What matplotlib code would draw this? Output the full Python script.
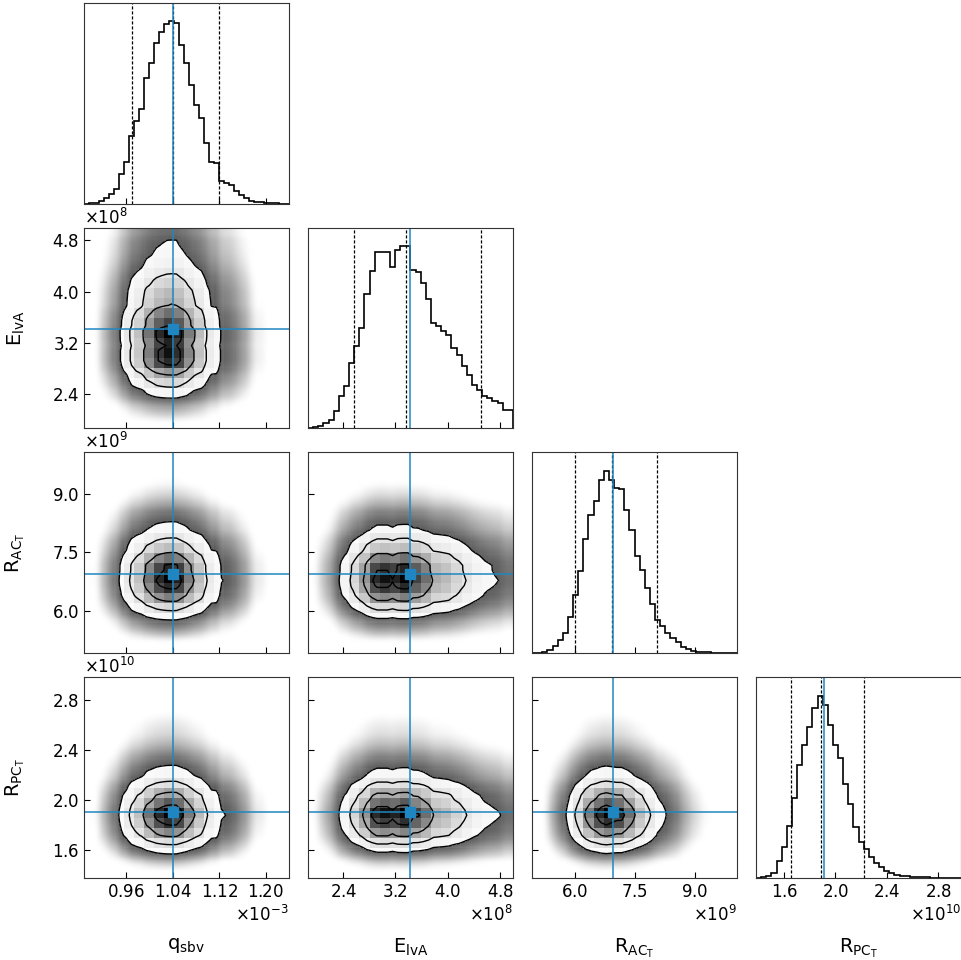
import numpy as np
import matplotlib
matplotlib.use("Agg")
import matplotlib.pyplot as plt
from matplotlib.ticker import ScalarFormatter, FixedLocator
from matplotlib.colors import LinearSegmentedColormap

# parameter names, axis ranges and ticks
labels = [r"$\mathrm{q_{sbv}}$", r"$\mathrm{E_{lvA}}$",
          r"$\mathrm{R_{AC_T}}$", r"$\mathrm{R_{PC_T}}$"]
ranges = [(0.887e-3, 1.240e-3), (1.86e8, 5.0e8),
          (4.93e9, 10.05e9), (1.38e10, 2.98e10)]
ticks = [[0.96e-3, 1.04e-3, 1.12e-3, 1.20e-3],
         [2.4e8, 3.2e8, 4.0e8, 4.8e8],
         [6.0e9, 7.5e9, 9.0e9],
         [1.6e10, 2.0e10, 2.4e10, 2.8e10]]

# best-fit values (blue) and 16/50/84 % quantiles (dashed)
truths = [1.040e-3, 3.42e8, 6.94e9, 1.91e10]
quantiles = [[0.970e-3, 1.040e-3, 1.120e-3],
             [2.57e8, 3.36e8, 4.51e8],
             [6.00e9, 6.92e9, 8.06e9],
             [1.652e10, 1.888e10, 2.22e10]]

# marginal histograms (relative heights, bins spread over the axis range)
q_hist = [0, .004, .004, .015, .03, .055, .08, .16, .23, .37, .45, .52, .69, .77,
          .88, .94, .985, 1.0, .99, .87, .77, .65, .54, .47, .33, .23, .22, .125,
          .115, .10, .07, .048, .033, .015, .007, .007, .004, .002, .002, 0, 0]
e_hist = [0, .005, .015, .027, .046, .093, .18, .23, .36, .45, .55, .735, .86,
          .965, .965, .965, .885, .98, 1.0, 1.0, .867, .855, .795, .71, .58, .56,
          .535, .51, .44, .40, .34, .29, .24, .21, .18, .165, .15, .14, .10, .10]
rac_hist = [0, 0, .004, .016, .04, .07, .11, .2, .32, .45, .625, .76, .835, .95,
            1.0, .95, .905, .90, .785, .675, .535, .455, .36, .27, .18, .15, .11,
            .085, .06, .035, .022, .013, .009, .005, .004, .003, .002, .001, .001, 0]
rpc_hist = [0, .003, .01, .027, .095, .17, .285, .436, .62, .727, .83, .93, 1.0,
            .95, .84, .73, .66, .515, .405, .28, .196, .16, .115, .085, .06, .04,
            .025, .018, .012, .01, .008, .006, .004, .003, .002, .001, 0, 0, 0, 0]

hists = [np.array(h, float) for h in (q_hist, e_hist, rac_hist, rpc_hist)]
truth_color = "#1f86c2"
sigma_mass = [1 - np.exp(-0.5 * s ** 2) for s in (0.5, 1.0, 1.5, 2.0)]

def edges_of(k):
    return np.linspace(ranges[k][0], ranges[k][1], len(hists[k]) + 1)

def coarse(h, e):
    # merge pairs of bins for the 2d block histogram
    if len(h) % 2:
        h = np.append(h, 0)
        e = np.append(e, e[-1] + (e[1] - e[0]))
    return h.reshape(-1, 2).sum(1), e[::2]

density_cmap = LinearSegmentedColormap.from_list("dens", ["k", (1, 1, 1, 0)])

fig = plt.figure(figsize=(9.62, 9.60), dpi=100)
axes = fig.subplots(4, 4)
fig.subplots_adjust(left=0.0873, right=0.999, bottom=0.0854, top=0.997,
                    wspace=0.093, hspace=0.12)

n = 4
for i in range(n):
    for j in range(n):
        ax = axes[i, j]
        if j > i:
            ax.set_visible(False)
            continue
        ax.tick_params(direction="in", length=4, labelsize=12,
                       top=False, right=False)
        for sp in ax.spines.values():
            sp.set_color("#333333")
        if i == j:
            e = edges_of(i)
            h = hists[i]
            ax.stairs(h, e, color="k", lw=1.2)
            for qv in quantiles[i]:
                ax.axvline(qv, color="k", ls="--", lw=0.9, dashes=(2.5, 1.5))
            ax.axvline(truths[i], color=truth_color, lw=1.1)
            ax.set_ylim(0, 1.1 * h.max())
            ax.set_yticks([])
        else:
            ex, ey = edges_of(j), edges_of(i)
            hx, hy = hists[j], hists[i]
            dens = np.outer(hy, hx)
            cx = 0.5 * (ex[1:] + ex[:-1])
            cy = 0.5 * (ey[1:] + ey[:-1])
            # density levels enclosing 0.5, 1, 1.5, 2 sigma
            flat = np.sort(dens.ravel())[::-1]
            cum = np.cumsum(flat) / flat.sum()
            levels = sorted(flat[np.searchsorted(cum, m)] for m in sigma_mass)
            # outer cloud of points, shaded on a log scale of the density
            r = np.clip(dens / levels[0], 1e-6, 1)
            alpha = 0.72 * np.clip(1 + np.log10(r) / 1.6, 0, 1) ** 1.5
            rgba = np.zeros(dens.shape + (4,))
            rgba[..., 3] = alpha
            ax.imshow(rgba, origin="lower", aspect="auto", interpolation="bicubic",
                      extent=(ex[0], ex[-1], ey[0], ey[-1]))
            ax.contourf(cx, cy, dens, [levels[0], dens.max() * 1.01],
                        colors=["white"], antialiased=False)
            hxc, exc = coarse(hx, ex)
            hyc, eyc = coarse(hy, ey)
            blocks = np.outer(hyc, hxc)
            ax.pcolormesh(exc, eyc, blocks.max() - blocks, cmap=density_cmap)
            ax.contour(cx, cy, dens, levels, colors="k", linewidths=1.0)
            ax.axvline(truths[j], color=truth_color, lw=1.1)
            ax.axhline(truths[i], color=truth_color, lw=1.1)
            ax.plot(truths[j], truths[i], "s", color=truth_color, ms=7)
            ax.set_ylim(ranges[i])
            ax.yaxis.set_major_locator(FixedLocator(ticks[i]))
            fy = ScalarFormatter(useMathText=True)
            fy.set_powerlimits((0, 0))
            ax.yaxis.set_major_formatter(fy)
            ax.yaxis.get_offset_text().set_fontsize(12)
            if j == 0:
                ax.set_ylabel(labels[i], fontsize=14)
                ax.yaxis.set_label_coords(-0.28, 0.5)
            else:
                ax.tick_params(labelleft=False)
                ax.yaxis.get_offset_text().set_visible(False)
        ax.set_xlim(ranges[j])
        ax.xaxis.set_major_locator(FixedLocator(ticks[j]))
        fx = ScalarFormatter(useMathText=True)
        fx.set_powerlimits((0, 0))
        ax.xaxis.set_major_formatter(fx)
        ax.xaxis.get_offset_text().set_fontsize(12)
        if i == n - 1:
            ax.set_xlabel(labels[j], fontsize=14)
            ax.xaxis.set_label_coords(0.5, -0.29)
        else:
            ax.tick_params(labelbottom=False)
            ax.xaxis.get_offset_text().set_visible(False)

fig.savefig("out.png", dpi=100)
